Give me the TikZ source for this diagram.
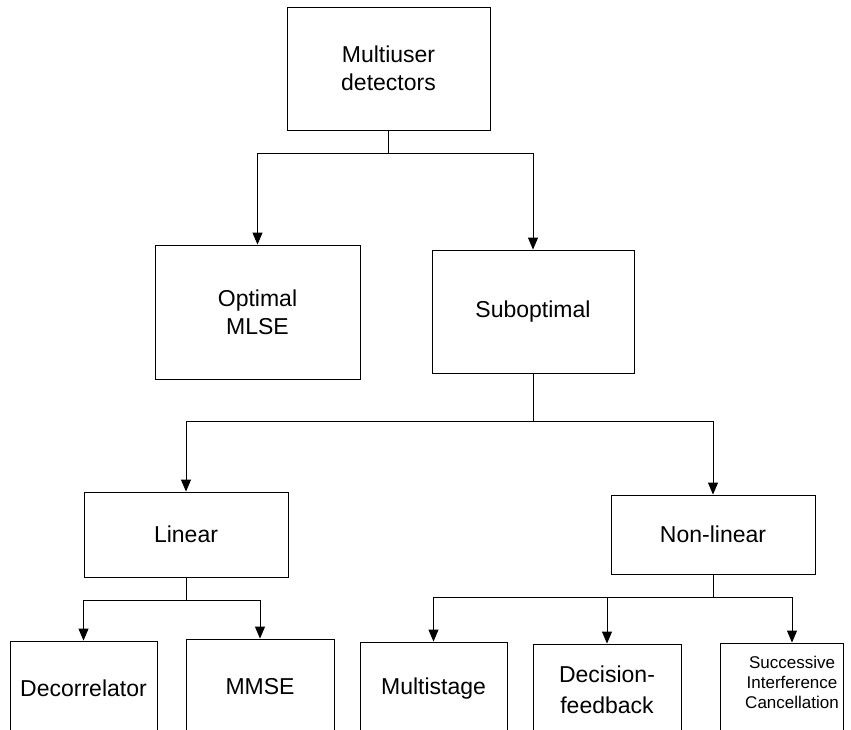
\documentclass[tikz,border=0pt]{standalone}
\usepackage{fontspec}
\setmainfont{Liberation Sans}
\usetikzlibrary{arrows.meta,calc}

\begin{document}
\begin{tikzpicture}[x=1pt,y=-1pt,
  box/.style={draw, line width=0.9pt, inner sep=0pt, align=center,
    font=\fontsize{23}{28}\selectfont},
  small/.style={align=center, inner sep=0pt,
    font=\fontsize{17}{20}\selectfont},
  link/.style={line width=0.9pt},
  arr/.style={link, -{Triangle[length=12pt,width=10pt]}}]

\useasboundingbox (0,0) rectangle (851,729);
\clip (0,0) rectangle (851,729);

% level 0
\node[box, minimum width=203pt, minimum height=123pt] (top) at (388.5,68.5) {Multiuser\\detectors};

% level 1
\node[box, minimum width=205pt, minimum height=134pt] (opt) at (257.5,312) {Optimal\\MLSE};
\node[box, minimum width=202pt, minimum height=123pt] (sub) at (533,311.5) {Suboptimal};

% level 2
\node[box, minimum width=204pt, minimum height=85pt] (lin) at (186,534.5) {Linear};
\node[box, minimum width=204pt, minimum height=79pt] (non) at (713,534.5) {Non-linear};

% level 3 (boxes run past the lower edge)
\node[box, minimum width=147pt, minimum height=94pt] (dec) at (83.5,688) {Decorrelator};
\node[box, minimum width=148pt, minimum height=96pt] (mmse) at (260,687) {MMSE};
\node[box, minimum width=147pt, minimum height=93pt] (multi) at (433.5,688.5) {Multistage};
\node[box, minimum width=148pt, minimum height=91pt, font=\fontsize{23}{31}\selectfont] (df) at (607,689.5) {Decision-\\feedback};
\node[draw, line width=0.9pt, inner sep=0pt, minimum width=123pt, minimum height=92pt] (sic) at (781.5,689) {};
\node[small] (sictext) at (792,682) {Successive\\Interference\\Cancellation};

% junction points
\coordinate (j0) at ($(top.south)+(0,23)$);
\coordinate (j1) at ($(sub.south)+(0,48)$);
\coordinate (j2) at ($(lin.south)+(0,23)$);
\coordinate (j3) at ($(non.south)+(0,23)$);
\coordinate (sicin) at (sictext |- sic.north);

% connectors
\draw[link] (top.south) -- (j0);
\draw[arr] (j0) -| (opt.north);
\draw[arr] (j0) -| (sub.north);

\draw[link] (sub.south) -- (j1);
\draw[arr] (j1) -| (lin.north);
\draw[arr] (j1) -| (non.north);

\draw[link] (lin.south) -- (j2);
\draw[arr] (j2) -| (dec.north);
\draw[arr] (j2) -| (mmse.north);

\draw[link] (non.south) -- (j3);
\draw[arr] (j3) -| (multi.north);
\draw[arr] (j3) -| (df.north);
\draw[arr] (j3) -| (sicin);
\end{tikzpicture}
\end{document}
